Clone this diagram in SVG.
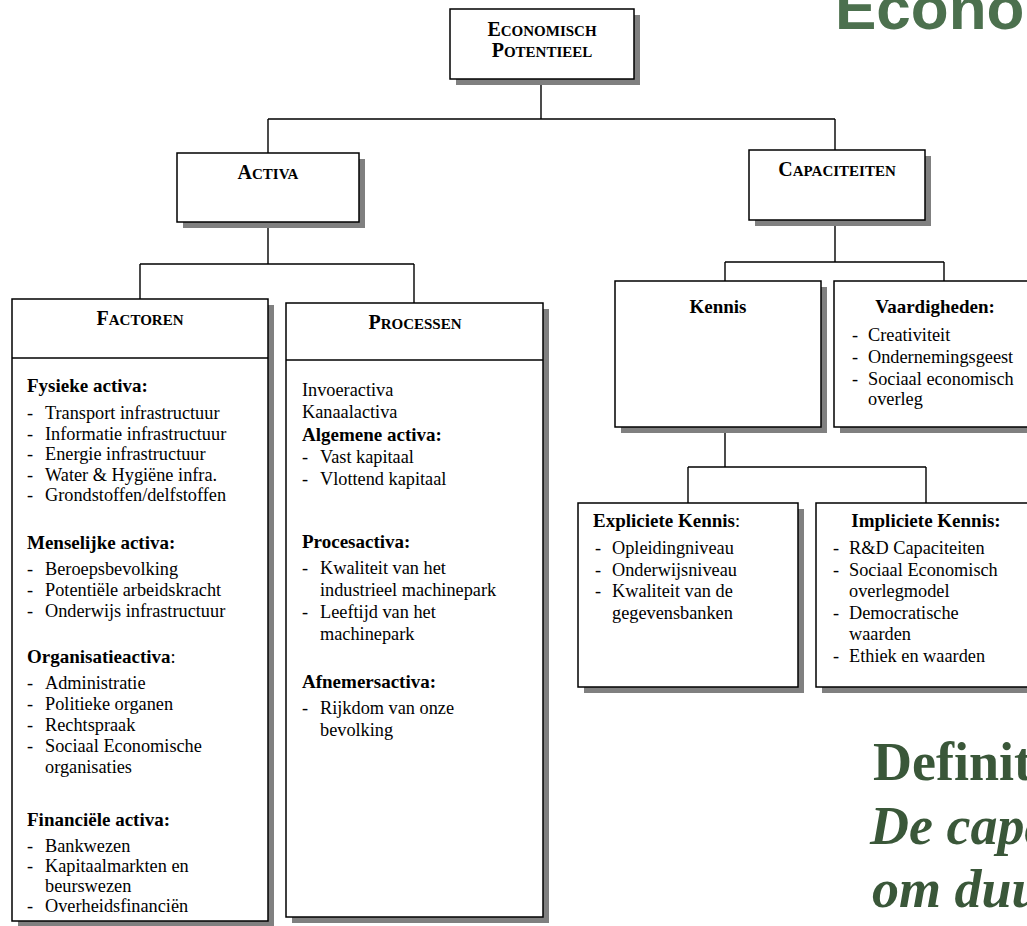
<svg xmlns="http://www.w3.org/2000/svg" width="1027" height="926" viewBox="0 0 1027 926">
<style>
.bg{fill:#fff}
.sh{fill:#808080}
.box{fill:#fff;stroke:#000;stroke-width:1.5}
.ln{fill:none;stroke:#000;stroke-width:1.4}
.t{font-family:"Liberation Serif","Times New Roman",serif;font-size:18.3px;fill:#000}
.b{font-weight:bold;font-size:19px}
.h{font-family:"Liberation Serif","Times New Roman",serif;font-weight:bold;fill:#000;text-anchor:middle}
.big{font-size:20px}
.sm{font-size:15px}
.c{text-anchor:middle}
.title{font-family:"Liberation Sans",Arial,sans-serif;font-weight:bold;font-size:62px;fill:#4c704e}
.def{font-family:"Liberation Serif","Times New Roman",serif;font-weight:bold;font-size:54px;fill:#3a5739}
</style>
<rect class="bg" x="0" y="0" width="1027" height="926"/>
<text class="title" x="835" y="29">Econo</text>
<g id="connectors">
<path class="ln" d="M541 79V119M268 119H835M268 119V153M835 119V150"/>
<path class="ln" d="M268 222V264M140 264H414M140 264V299M414 264V303"/>
<path class="ln" d="M835 220V262M725 262H944M725 262V281M944 262V281"/>
<path class="ln" d="M725 427V467M688 467H926M688 467V503M926 467V503"/>
</g>
<g id="n-economisch">
<rect class="sh" x="456" y="15" width="184" height="70"/>
<rect class="box" x="450" y="9" width="184" height="70"/>
<text class="h" x="542" y="36"><tspan class="big">E</tspan><tspan class="sm">CONOMISCH</tspan></text>
<text class="h" x="542" y="57"><tspan class="big">P</tspan><tspan class="sm">OTENTIEEL</tspan></text>
</g>
<g id="n-activa">
<rect class="sh" x="183" y="159" width="182" height="69"/>
<rect class="box" x="177" y="153" width="182" height="69"/>
<text class="h" x="268" y="179"><tspan class="big">A</tspan><tspan class="sm">CTIVA</tspan></text>
</g>
<g id="n-capaciteiten">
<rect class="sh" x="755" y="156" width="176" height="70"/>
<rect class="box" x="749" y="150" width="176" height="70"/>
<text class="h" x="837" y="176"><tspan class="big">C</tspan><tspan class="sm">APACITEITEN</tspan></text>
</g>
<g id="n-factoren">
<rect class="sh" x="18" y="305" width="256" height="622"/>
<rect class="box" x="12" y="299" width="256" height="622"/>
<path class="ln" d="M12 358H268"/>
<text class="h" x="140" y="325"><tspan class="big">F</tspan><tspan class="sm">ACTOREN</tspan></text>
<g class="t">
<text class="b" x="27" y="392">Fysieke activa:</text>
<text y="419"><tspan x="27">-</tspan><tspan x="45">Transport infrastructuur</tspan></text>
<text y="440"><tspan x="27">-</tspan><tspan x="45">Informatie infrastructuur</tspan></text>
<text y="460"><tspan x="27">-</tspan><tspan x="45">Energie infrastructuur</tspan></text>
<text y="481"><tspan x="27">-</tspan><tspan x="45">Water &amp; Hygiëne infra.</tspan></text>
<text y="501"><tspan x="27">-</tspan><tspan x="45">Grondstoffen/delfstoffen</tspan></text>
<text class="b" x="27" y="549">Menselijke activa:</text>
<text y="575"><tspan x="27">-</tspan><tspan x="45">Beroepsbevolking</tspan></text>
<text y="596"><tspan x="27">-</tspan><tspan x="45">Potentiële arbeidskracht</tspan></text>
<text y="617"><tspan x="27">-</tspan><tspan x="45">Onderwijs infrastructuur</tspan></text>
<text x="27" y="663"><tspan class="b">Organisatieactiva</tspan>:</text>
<text y="689"><tspan x="27">-</tspan><tspan x="45">Administratie</tspan></text>
<text y="710"><tspan x="27">-</tspan><tspan x="45">Politieke organen</tspan></text>
<text y="731"><tspan x="27">-</tspan><tspan x="45">Rechtspraak</tspan></text>
<text y="752"><tspan x="27">-</tspan><tspan x="45">Sociaal Economische</tspan></text>
<text x="45" y="773">organisaties</text>
<text class="b" x="27" y="826">Financiële activa:</text>
<text y="852"><tspan x="27">-</tspan><tspan x="45">Bankwezen</tspan></text>
<text y="872"><tspan x="27">-</tspan><tspan x="45">Kapitaalmarkten en</tspan></text>
<text x="45" y="892">beurswezen</text>
<text y="912"><tspan x="27">-</tspan><tspan x="45">Overheidsfinanciën</tspan></text>
</g>
</g>
<g id="n-processen">
<rect class="sh" x="292" y="309" width="257" height="614"/>
<rect class="box" x="286" y="303" width="257" height="614"/>
<path class="ln" d="M286 360H543"/>
<text class="h" x="415" y="329"><tspan class="big">P</tspan><tspan class="sm">ROCESSEN</tspan></text>
<g class="t">
<text x="302" y="396">Invoeractiva</text>
<text x="302" y="418">Kanaalactiva</text>
<text class="b" x="302" y="441">Algemene activa:</text>
<text y="463"><tspan x="302">-</tspan><tspan x="320">Vast kapitaal</tspan></text>
<text y="485"><tspan x="302">-</tspan><tspan x="320">Vlottend kapitaal</tspan></text>
<text class="b" x="302" y="548">Procesactiva:</text>
<text y="574"><tspan x="302">-</tspan><tspan x="320">Kwaliteit van het</tspan></text>
<text x="320" y="596">industrieel machinepark</text>
<text y="618"><tspan x="302">-</tspan><tspan x="320">Leeftijd van het</tspan></text>
<text x="320" y="640">machinepark</text>
<text class="b" x="302" y="688">Afnemersactiva:</text>
<text y="714"><tspan x="302">-</tspan><tspan x="320">Rijkdom van onze</tspan></text>
<text x="320" y="736">bevolking</text>
</g>
</g>
<g id="n-kennis">
<rect class="sh" x="621" y="287" width="206" height="146"/>
<rect class="box" x="615" y="281" width="206" height="146"/>
<text class="t b c" x="718" y="313">Kennis</text>
</g>
<g id="n-vaardigheden">
<rect class="sh" x="840" y="287" width="200" height="146"/>
<rect class="box" x="834" y="281" width="200" height="146"/>
<g class="t">
<text class="b c" x="935" y="313">Vaardigheden:</text>
<text y="341"><tspan x="852">-</tspan><tspan x="868">Creativiteit</tspan></text>
<text y="363"><tspan x="852">-</tspan><tspan x="868">Ondernemingsgeest</tspan></text>
<text y="385"><tspan x="852">-</tspan><tspan x="868">Sociaal economisch</tspan></text>
<text x="868" y="405">overleg</text>
</g>
</g>
<g id="n-expliciete">
<rect class="sh" x="584" y="509" width="220" height="184"/>
<rect class="box" x="578" y="503" width="220" height="184"/>
<g class="t">
<text x="593" y="527"><tspan class="b">Expliciete Kennis</tspan>:</text>
<text y="554"><tspan x="595">-</tspan><tspan x="612">Opleidingniveau</tspan></text>
<text y="576"><tspan x="595">-</tspan><tspan x="612">Onderwijsniveau</tspan></text>
<text y="597"><tspan x="595">-</tspan><tspan x="612">Kwaliteit van de</tspan></text>
<text x="612" y="619">gegevensbanken</text>
</g>
</g>
<g id="n-impliciete">
<rect class="sh" x="822" y="509" width="220" height="184"/>
<rect class="box" x="816" y="503" width="220" height="184"/>
<g class="t">
<text class="b c" x="926" y="527">Impliciete Kennis:</text>
<text y="554"><tspan x="833">-</tspan><tspan x="849">R&amp;D Capaciteiten</tspan></text>
<text y="576"><tspan x="833">-</tspan><tspan x="849">Sociaal Economisch</tspan></text>
<text x="849" y="597">overlegmodel</text>
<text y="619"><tspan x="833">-</tspan><tspan x="849">Democratische</tspan></text>
<text x="849" y="640">waarden</text>
<text y="662"><tspan x="833">-</tspan><tspan x="849">Ethiek en waarden</tspan></text>
</g>
</g>
<g id="definition">
<text class="def" x="873" y="780">Definit</text>
<text class="def" x="870" y="844" font-style="italic">De capa</text>
<text class="def" x="872" y="907" font-style="italic">om duu</text>
</g>
</svg>
